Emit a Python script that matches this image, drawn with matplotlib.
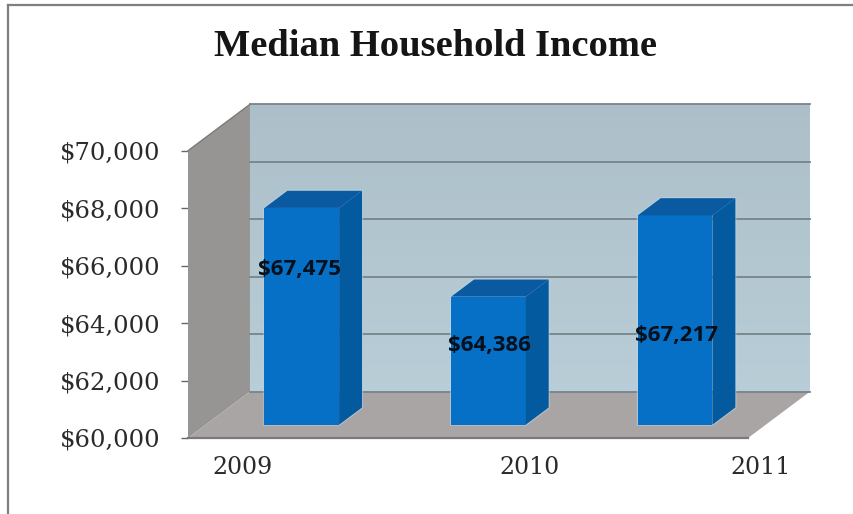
import numpy as np
import matplotlib
matplotlib.use('Agg')
import matplotlib.pyplot as plt
from matplotlib.lines import Line2D
from matplotlib.patches import Polygon

years = ['2009', '2010', '2011']
incomes = [67475, 64386, 67217]
value_ticks = [60000, 62000, 64000, 66000, 68000, 70000]

W, H = 854, 514
# plot area of the front plane, in pixels
left, right, top, bottom = 188, 748, 150.7, 438

# how far the back wall sits behind the front plane, in axis units
depth_x = 0.332
depth_y = 1615
bar_width = 0.40
bar_front = 0.33
bar_back = 0.70
bar_base = 59930

# hand placed labels, pixels
year_label_x = [243, 530, 761]
year_label_y = 468
value_label_x = [300, 489, 677]
value_label_y = [270, 345, 336]


def sheared(x, y, d):
    return (x + d * depth_x, y + d * depth_y)


fig = plt.figure(figsize=(W / 100, H / 100), dpi=100, facecolor='white')
ax = fig.add_axes([left / W, 1 - bottom / H, (right - left) / W, (bottom - top) / H])
ax.set_xlim(0, 3)
ax.set_ylim(60000, 70000)
ax.patch.set_visible(False)
for s in ax.spines.values():
    s.set_visible(False)

# back wall, slightly lighter towards the floor
wall = np.linspace(0, 1, 64).reshape(-1, 1, 1)
wall_rgb = np.array([0.675, 0.750, 0.790]) * (1 - wall) + np.array([0.725, 0.805, 0.845]) * wall
ax.imshow(wall_rgb, extent=[depth_x, 3 + depth_x, 60000 + depth_y, 70000 + depth_y],
          origin='upper', aspect='auto', zorder=1, clip_on=False)
ax.set_xlim(0, 3)
ax.set_ylim(60000, 70000)

# left wall and floor
ax.add_patch(Polygon([sheared(0, 60000, 0), sheared(0, 60000, 1), sheared(0, 70000, 1), sheared(0, 70000, 0)],
                     fc='#969594', ec='none', zorder=2, clip_on=False))
ax.add_patch(Polygon([sheared(0, 60000, 0), sheared(0, 60000, 1), sheared(3, 60000, 1), sheared(3, 60000, 0)],
                     fc='#a8a5a4', ec='none', zorder=2, clip_on=False))

# gridlines on the back wall
for v in value_ticks:
    xs, ys = zip(sheared(0, v, 1), sheared(3, v, 1))
    ax.plot(xs, ys, color='#76858b', lw=1.3, zorder=3, clip_on=False)
# edges
xs, ys = zip(sheared(0, 70000, 0), sheared(0, 70000, 1))
ax.plot(xs, ys, color='#7b7b7b', lw=1.0, zorder=3, clip_on=False)
ax.plot([0, 3], [60000, 60000], color='#7a7a7a', lw=1.6, zorder=3, clip_on=False)

# bars
for i, v in enumerate(incomes):
    x0 = i + 0.5 - bar_width / 2
    x1 = i + 0.5 + bar_width / 2
    front = [sheared(x0, bar_base, bar_front), sheared(x1, bar_base, bar_front),
             sheared(x1, v, bar_front), sheared(x0, v, bar_front)]
    side = [sheared(x1, bar_base, bar_front), sheared(x1, bar_base, bar_back),
            sheared(x1, v, bar_back), sheared(x1, v, bar_front)]
    cap = [sheared(x0, v, bar_front), sheared(x1, v, bar_front),
           sheared(x1, v, bar_back), sheared(x0, v, bar_back)]
    # pale rim around the bar
    outline = [front[0], front[1], side[1], side[2], cap[3], front[3]]
    ax.add_patch(Polygon(outline, fc='none', ec='#bcd6e6', lw=1.5, alpha=0.6, zorder=3.5, clip_on=False))
    ax.add_patch(Polygon(front, fc='#0570c6', ec='none', zorder=4, clip_on=False))
    ax.add_patch(Polygon(side, fc='#045a9e', ec='none', zorder=4, clip_on=False))
    ax.add_patch(Polygon(cap, fc='#0a5aa2', ec='none', zorder=4, clip_on=False))

# axis labels
ax.set_xticks([])
ax.set_yticks(value_ticks)
ax.set_yticklabels(['${:,}'.format(v) for v in value_ticks], family='DejaVu Serif', fontsize=17.5, color='#2a2a2a')
ax.tick_params(axis='y', length=5, width=1, color='#666666', pad=15)

for x, y in zip(year_label_x, years):
    fig.text(x / W, 1 - year_label_y / H, y, family='DejaVu Serif', fontsize=17,
             color='#2a2a2a', ha='center', va='center')

for x, y, v in zip(value_label_x, value_label_y, incomes):
    fig.text(x / W, 1 - y / H, '${:,}'.format(v), family='Open Sans', fontweight='bold', fontsize=16,
             color='#04101c', ha='center', va='center', zorder=6)

fig.text(436 / W, 1 - 47 / H, 'Median Household Income', family='Liberation Serif',
         fontweight='bold', fontsize=27.7, color='#151515', ha='center', va='center')

# outer frame of the chart
fig.add_artist(Line2D([8 / W, 8 / W], [0, 1 - 5 / H], color='#7f7f7f', lw=1.6))
fig.add_artist(Line2D([8 / W, 1], [1 - 5 / H, 1 - 5 / H], color='#7f7f7f', lw=1.6))

fig.savefig('out.png', dpi=100)
